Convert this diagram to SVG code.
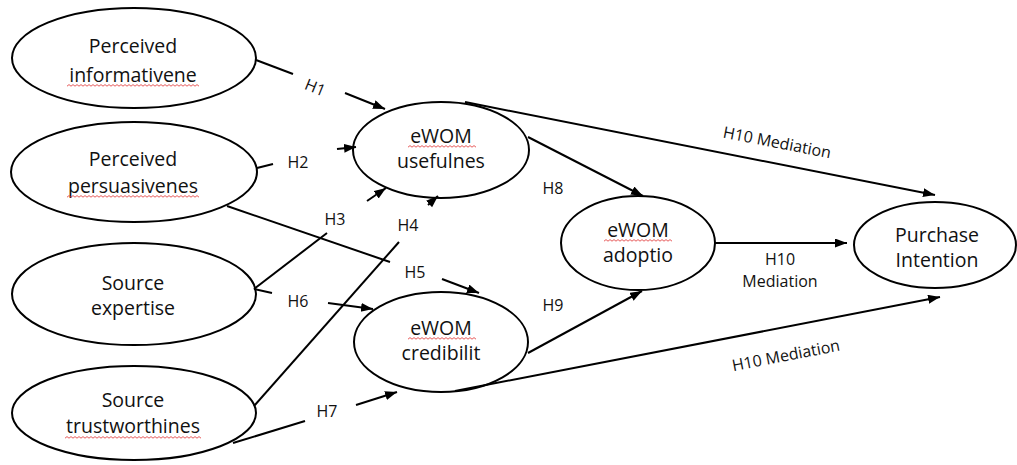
<svg xmlns="http://www.w3.org/2000/svg" width="1017" height="465" viewBox="0 0 1017 465">
<style>
.n{fill:none;stroke:#000;stroke-width:2}
.t{font-family:"Open Sans","Liberation Sans",sans-serif;font-size:19.5px;fill:#111;text-anchor:middle}
.l{font-family:"Open Sans","Liberation Sans",sans-serif;font-size:16px;fill:#111;text-anchor:middle}
.c{fill:none;stroke:#000;stroke-width:2}
.a{marker-end:url(#ah)}
</style>
<defs>
<marker id="ah" markerWidth="13" markerHeight="10" refX="12" refY="4.5" orient="auto" markerUnits="userSpaceOnUse">
<path d="M0,0 L12,4.5 L0,9 z" fill="#000"/>
</marker>
<pattern id="sq" width="4" height="3" patternUnits="userSpaceOnUse">
<path d="M0,2.2 L2,0.6 L4,2.2" fill="none" stroke="#e03030" stroke-width="0.8"/>
</pattern>
</defs>
<rect width="1017" height="465" fill="#fff"/>

<g id="connectors">
<!-- H1 -->
<line class="c" x1="256" y1="60" x2="293" y2="74"/>
<line class="c a" x1="345" y1="93" x2="385" y2="109"/>
<!-- H2 -->
<line class="c" x1="257" y1="168" x2="273" y2="164"/>
<line class="c a" x1="337" y1="149" x2="356" y2="147"/>
<!-- H3 -->
<line class="c" x1="254" y1="289" x2="327" y2="233"/>
<line class="c a" x1="367" y1="201" x2="386" y2="188"/>
<!-- H4 -->
<line class="c" x1="254" y1="406" x2="399" y2="242"/>
<line class="c a" x1="428" y1="205" x2="438" y2="196"/>
<!-- H5 -->
<line class="c" x1="227" y1="206" x2="390" y2="262"/>
<line class="c a" x1="442" y1="279" x2="479" y2="293"/>
<!-- H6 -->
<line class="c" x1="254" y1="289" x2="272" y2="293"/>
<line class="c a" x1="328" y1="303" x2="373" y2="309"/>
<!-- H7 -->
<line class="c" x1="233" y1="443" x2="305" y2="421"/>
<line class="c a" x1="356" y1="405" x2="397" y2="392"/>
<!-- H8 -->
<line class="c a" x1="528" y1="137" x2="643" y2="196"/>
<!-- H9 -->
<line class="c a" x1="528" y1="353" x2="642" y2="291"/>
<!-- H10 -->
<line class="c a" x1="465" y1="102" x2="935" y2="195"/>
<line class="c a" x1="715" y1="243" x2="847" y2="243"/>
<line class="c a" x1="455" y1="391" x2="940" y2="297"/>
</g>

<g id="labels">
<text class="l" transform="translate(315,88) rotate(22)" y="5">H1</text>
<text class="l" x="298" y="168">H2</text>
<text class="l" x="335" y="225">H3</text>
<text class="l" x="408" y="231">H4</text>
<text class="l" x="415" y="278">H5</text>
<text class="l" x="298" y="307">H6</text>
<text class="l" x="327" y="417">H7</text>
<text class="l" x="553" y="194">H8</text>
<text class="l" x="553" y="311">H9</text>
<text class="l" transform="translate(777,143) rotate(11)" y="5">H10 Mediation</text>
<text class="l" x="780" y="265">H10</text>
<text class="l" x="780" y="287">Mediation</text>
<text class="l" transform="translate(786,356) rotate(-11)" y="5">H10 Mediation</text>
</g>

<g id="informativeness">
<ellipse class="n" cx="134" cy="58" rx="122" ry="50"/>
<text class="t" x="133" y="53">Perceived</text>
<text class="t" x="133" y="82">informativene</text>
<rect x="0" y="0" width="132" height="3" fill="url(#sq)" transform="translate(67,84)"/>
</g>
<g id="persuasiveness">
<ellipse class="n" cx="134" cy="172" rx="123" ry="50"/>
<text class="t" x="133" y="166">Perceived</text>
<text class="t" x="133" y="193">persuasivenes</text>
<rect x="0" y="0" width="132" height="3" fill="url(#sq)" transform="translate(67,195)"/>
</g>
<g id="expertise">
<ellipse class="n" cx="134" cy="294" rx="122" ry="51"/>
<text class="t" x="133" y="290">Source</text>
<text class="t" x="133" y="315">expertise</text>
</g>
<g id="trustworthiness">
<ellipse class="n" cx="134" cy="413" rx="122" ry="47"/>
<text class="t" x="133" y="407">Source</text>
<text class="t" x="133" y="433">trustworthines</text>
<rect x="0" y="0" width="136" height="3" fill="url(#sq)" transform="translate(65,436)"/>
</g>
<g id="usefulness">
<ellipse class="n" cx="441" cy="150" rx="88" ry="48"/>
<text class="t" x="441" y="143">eWOM</text>
<text class="t" x="441" y="168">usefulnes</text>
<rect x="0" y="0" width="68" height="3" fill="url(#sq)" transform="translate(408,145)"/>
</g>
<g id="credibility">
<ellipse class="n" cx="441" cy="342" rx="87" ry="50"/>
<text class="t" x="441" y="335">eWOM</text>
<text class="t" x="441" y="360">credibilit</text>
<rect x="0" y="0" width="68" height="3" fill="url(#sq)" transform="translate(408,337)"/>
</g>
<g id="adoption">
<ellipse class="n" cx="638" cy="243" rx="77" ry="47"/>
<text class="t" x="638" y="237">eWOM</text>
<text class="t" x="638" y="262">adoptio</text>
<rect x="0" y="0" width="68" height="3" fill="url(#sq)" transform="translate(604,239)"/>
</g>
<g id="purchase">
<ellipse class="n" cx="935" cy="245" rx="81" ry="43"/>
<text class="t" x="937" y="242">Purchase</text>
<text class="t" x="937" y="267">Intention</text>
</g>
</svg>
